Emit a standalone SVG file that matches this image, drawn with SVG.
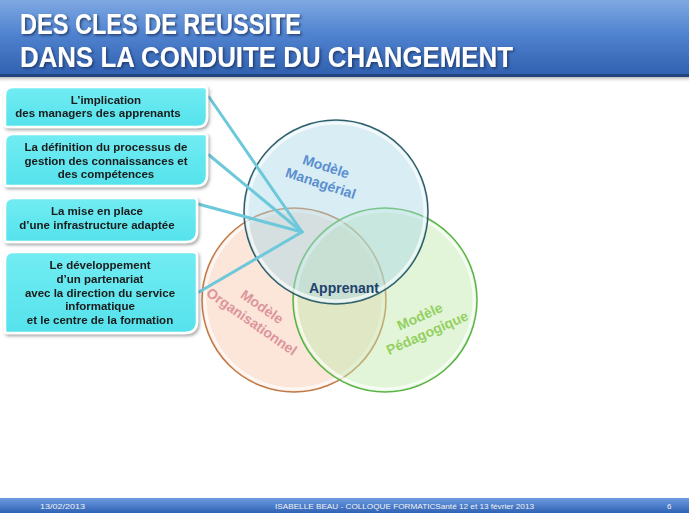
<svg xmlns="http://www.w3.org/2000/svg" width="689" height="517" viewBox="0 0 689 517">
<defs>
<linearGradient id="hdr" x1="0" y1="0" x2="0" y2="1">
<stop offset="0" stop-color="#7ea8e2"/>
<stop offset="0.45" stop-color="#4f82cf"/>
<stop offset="1" stop-color="#2f5fae"/>
</linearGradient>
<linearGradient id="ftr" x1="0" y1="0" x2="0" y2="1">
<stop offset="0" stop-color="#6d9be0"/>
<stop offset="1" stop-color="#2f62b4"/>
</linearGradient>
<linearGradient id="shade" x1="0" y1="0" x2="0" y2="1">
<stop offset="0" stop-color="#8a8a8a" stop-opacity="0.6"/>
<stop offset="1" stop-color="#ffffff" stop-opacity="0"/>
</linearGradient>
<linearGradient id="box" x1="0" y1="0" x2="0" y2="1">
<stop offset="0" stop-color="#72ecf2"/>
<stop offset="1" stop-color="#55e2ec"/>
</linearGradient>
<filter id="tsh" x="-5%" y="-20%" width="110%" height="150%">
<feDropShadow dx="1.5" dy="1.5" stdDeviation="1" flood-color="#1b2f5a" flood-opacity="0.8"/>
</filter>
<filter id="bsh" x="-5%" y="-10%" width="115%" height="130%">
<feDropShadow dx="1.5" dy="2" stdDeviation="1.5" flood-color="#555" flood-opacity="0.5"/>
</filter>
<style>
.title{font-family:"Liberation Sans",Arial,sans-serif;font-weight:bold;font-size:30px;fill:#ffffff}
.box{fill:url(#box);stroke:#ffffff;stroke-width:2.5}
.bt{font-family:"Liberation Sans",Arial,sans-serif;font-weight:bold;font-size:11.5px;fill:#1a1a1a;text-anchor:middle}
.con{stroke:#6cc8da;stroke-width:3;fill:none;stroke-linecap:round}
.lbl{font-family:"Liberation Sans",Arial,sans-serif;font-weight:bold;font-size:14px;text-anchor:middle}
.ft{font-family:"Liberation Sans",Arial,sans-serif;font-size:8px;fill:#f2f2f2}
.ring{fill:none;stroke:#ffffff;stroke-opacity:0.65;stroke-width:3}
</style>
</defs>
<rect width="689" height="517" fill="#ffffff"/>

<g id="header">
<rect x="0" y="77" width="689" height="6" fill="url(#shade)"/>
<rect x="0" y="0" width="689" height="77" fill="url(#hdr)"/>
<rect x="0" y="74" width="689" height="3" fill="#22457f"/>
<text class="title" x="20" y="34" textLength="281" lengthAdjust="spacingAndGlyphs" filter="url(#tsh)">DES CLES DE REUSSITE</text>
<text class="title" x="20" y="67" textLength="493" lengthAdjust="spacingAndGlyphs" filter="url(#tsh)">DANS LA CONDUITE DU CHANGEMENT</text>
</g>

<g id="circles">
<g id="organisationnel">
<circle cx="294" cy="300" r="92" fill="#f8c7aa" fill-opacity="0.45" stroke="#c07a48" stroke-width="1.5"/>
<circle cx="294" cy="300" r="89" class="ring"/>
</g>
<g id="pedagogique">
<circle cx="385" cy="300" r="92" fill="#bfe8aa" fill-opacity="0.45" stroke="#58b444" stroke-width="1.5"/>
<circle cx="385" cy="300" r="89" class="ring"/>
</g>
<g id="manageriel">
<circle cx="336" cy="212" r="92" fill="#a8d6e6" fill-opacity="0.45" stroke="#2f5e6a" stroke-width="1.5"/>
<circle cx="336" cy="212" r="89" class="ring"/>
</g>
<g transform="translate(323.5,174.5) rotate(18)">
<text class="lbl" x="0" y="-3.5" fill="#5b8fd0">Modèle</text>
<text class="lbl" x="0" y="14" fill="#5b8fd0">Managérial</text>
</g>
<g transform="translate(257,314) rotate(35)">
<text class="lbl" x="0" y="-4" fill="#dc959c">Modèle</text>
<text class="lbl" x="0" y="14" fill="#dc959c">Organisationnel</text>
</g>
<g transform="translate(423.5,324.5) rotate(-24)">
<text class="lbl" x="0" y="-4" fill="#94d060">Modèle</text>
<text class="lbl" x="0" y="14" fill="#94d060">Pédagogique</text>
</g>
<g id="apprenant">
<text class="lbl" x="344" y="293" font-size="14.5" fill="#22406e">Apprenant</text>
</g>
</g>

<g id="connectors">
<line class="con" x1="209" y1="97" x2="302" y2="232"/>
<line class="con" x1="209" y1="155" x2="302" y2="232"/>
<line class="con" x1="198" y1="204" x2="302" y2="232"/>
<line class="con" x1="199" y1="292" x2="302" y2="232"/>
</g>

<g id="box1" filter="url(#bsh)">
<path class="box" d="M13,87 H204 Q207,87 207,90 V117 Q207,127 197,127 H7 Q5,127 5,125 V95 Q5,87 13,87 Z"/>
<text class="bt" x="106" y="104">L’implication</text>
<text class="bt" x="98" y="117">des managers des apprenants</text>
</g>
<g id="box2" filter="url(#bsh)">
<path class="box" d="M13,134 H204 Q207,134 207,137 V175 Q207,186 196,186 H7 Q5,186 5,184 V142 Q5,134 13,134 Z"/>
<text class="bt" x="106" y="151">La définition  du processus de</text>
<text class="bt" x="106" y="165">gestion des connaissances et</text>
<text class="bt" x="106" y="178">des compétences</text>
</g>
<g id="box3" filter="url(#bsh)">
<path class="box" d="M13,198 H194 Q197,198 197,201 V231 Q197,242 186,242 H7 Q5,242 5,240 V206 Q5,198 13,198 Z"/>
<text class="bt" x="97" y="215">La mise en place</text>
<text class="bt" x="97" y="229">d’une infrastructure  adaptée</text>
</g>
<g id="box4" filter="url(#bsh)">
<path class="box" d="M13,252 H193 Q197,252 197,256 V321 Q197,333 185,333 H7 Q5,333 5,331 V260 Q5,252 13,252 Z"/>
<text class="bt" x="100" y="269">Le développement</text>
<text class="bt" x="100" y="283">d’un partenariat</text>
<text class="bt" x="100" y="297">avec la direction du service</text>
<text class="bt" x="100" y="310">informatique</text>
<text class="bt" x="100" y="324">et le centre de la formation</text>
</g>

<g id="footer">
<rect x="0" y="498" width="689" height="15" fill="url(#ftr)"/>
<text class="ft" x="40" y="509" textLength="45" lengthAdjust="spacingAndGlyphs">13/02/2013</text>
<text class="ft" x="275" y="509" textLength="259" lengthAdjust="spacingAndGlyphs">ISABELLE  BEAU  - COLLOQUE  FORMATICSanté  12 et  13 février 2013</text>
<text class="ft" x="667" y="509">6</text>
</g>
</svg>
